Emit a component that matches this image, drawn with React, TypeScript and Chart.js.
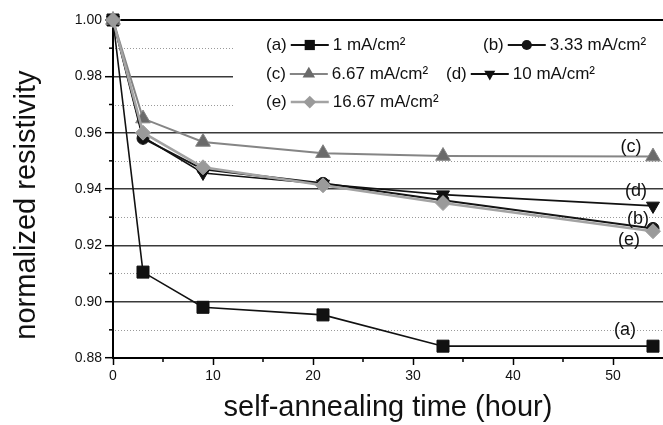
import React, { useEffect, useRef } from 'react';
import { Chart, registerables } from 'chart.js';

Chart.register(...registerables);

// ---- data ----
const hours = [0, 3, 9, 21, 33, 54];
const seriesA = [1.0, 0.9105, 0.898, 0.8953, 0.8842, 0.8842];
const seriesB = [1.0, 0.958, 0.947, 0.942, 0.936, 0.926];
const seriesC = [1.0, 0.965, 0.9567, 0.9527, 0.9517, 0.9515];
const seriesD = [1.0, 0.9585, 0.9457, 0.9418, 0.938, 0.934];
const seriesE = [1.0, 0.96, 0.9477, 0.9413, 0.935, 0.925];
const seriesTags = ['(a)', '(b)', '(c)', '(d)', '(e)'];
const seriesLabels = ['1 mA/cm\u00B2', '3.33 mA/cm\u00B2', '6.67 mA/cm\u00B2', '10 mA/cm\u00B2', '16.67 mA/cm\u00B2'];
const xTickValues = [0, 5, 10, 15, 20, 25, 30, 35, 40, 45, 50];
const yTickValues = [0.88, 0.89, 0.9, 0.91, 0.92, 0.93, 0.94, 0.95, 0.96, 0.97, 0.98, 0.99, 1.0];
const xTitle = 'self-annealing time (hour)';
const yTitle = 'normalized resistivity';

const FONT = "'Liberation Sans', Arial, Helvetica, sans-serif";

const isMajorY = (v: number) => Math.round(v * 100) % 2 === 0;
const isMajorX = (v: number) => Math.round(v) % 10 === 0;

function drawMarker(ctx: CanvasRenderingContext2D, style: string, x: number, y: number, r: number, rotationDeg: number) {
  let rad = (rotationDeg * Math.PI) / 180;
  ctx.beginPath();
  if (style === 'circle') {
    ctx.arc(x, y, r, 0, Math.PI * 2);
  } else if (style === 'rect') {
    const s = Math.SQRT1_2 * r;
    ctx.rect(x - s, y - s, 2 * s, 2 * s);
  } else if (style === 'rectRot') {
    ctx.moveTo(x - r, y);
    ctx.lineTo(x, y - r);
    ctx.lineTo(x + r, y);
    ctx.lineTo(x, y + r);
    ctx.closePath();
  } else if (style === 'triangle') {
    ctx.moveTo(x + Math.sin(rad) * r, y - Math.cos(rad) * r);
    rad += (2 * Math.PI) / 3;
    ctx.lineTo(x + Math.sin(rad) * r, y - Math.cos(rad) * r);
    rad += (2 * Math.PI) / 3;
    ctx.lineTo(x + Math.sin(rad) * r, y - Math.cos(rad) * r);
    ctx.closePath();
  }
  ctx.fill();
}

// per-series annotation offsets (px) relative to the last point
const annotationOffsets = [
  [-28, -16],
  [-15, -9],
  [-22, -10],
  [-17, -15],
  [-24, 9],
];
// legend layout (px)
const legendItemX = [266, 483, 266, 446, 266];
const legendRowY = [45, 45, 74, 74, 102];

const decorPlugin = {
  id: 'decor',
  beforeDatasetsDraw(chart: any) {
    const { ctx, chartArea } = chart;
    const xs = chart.scales.x;
    const ys = chart.scales.y;
    ctx.save();
    // dotted minor gridlines
    ctx.strokeStyle = '#9a9a9a';
    ctx.lineWidth = 1;
    ctx.setLineDash([1, 2]);
    yTickValues.forEach((v) => {
      if (isMajorY(v)) return;
      const py = Math.round(ys.getPixelForValue(v)) + 0.5;
      ctx.beginPath();
      ctx.moveTo(chartArea.left + 2, py);
      ctx.lineTo(chartArea.right, py);
      ctx.stroke();
    });
    ctx.setLineDash([]);
    // minor ticks
    ctx.strokeStyle = '#000';
    ctx.lineWidth = 1.5;
    yTickValues.forEach((v) => {
      if (isMajorY(v)) return;
      const py = ys.getPixelForValue(v);
      ctx.beginPath();
      ctx.moveTo(chartArea.left - 4, py);
      ctx.lineTo(chartArea.left, py);
      ctx.stroke();
    });
    xTickValues.forEach((v) => {
      if (isMajorX(v)) return;
      const px = xs.getPixelForValue(v);
      ctx.beginPath();
      ctx.moveTo(px, chartArea.bottom);
      ctx.lineTo(px, chartArea.bottom + 4);
      ctx.stroke();
    });
    ctx.restore();
  },
  afterDatasetsDraw(chart: any) {
    const { ctx, chartArea } = chart;
    const xs = chart.scales.x;
    const ys = chart.scales.y;
    ctx.save();
    // annotations near the curve ends
    ctx.font = `18px ${FONT}`;
    ctx.fillStyle = '#111';
    ctx.textAlign = 'center';
    ctx.textBaseline = 'middle';
    chart.data.datasets.forEach((ds: any, i: number) => {
      const last = ds.data[ds.data.length - 1];
      const px = xs.getPixelForValue(last.x) + annotationOffsets[i][0];
      const py = ys.getPixelForValue(last.y) + annotationOffsets[i][1];
      ctx.fillText(seriesTags[i], px, py);
    });

    // legend box
    const boxLeft = xs.getPixelForValue(12);
    const boxTop = ys.getPixelForValue(1.0) + 1.5;
    const boxBottom = ys.getPixelForValue(0.96) - 1.5;
    ctx.fillStyle = '#fff';
    ctx.fillRect(boxLeft, boxTop, chartArea.right - boxLeft, boxBottom - boxTop);

    ctx.textAlign = 'left';
    chart.data.datasets.forEach((ds: any, i: number) => {
      const x0 = legendItemX[i];
      const y0 = legendRowY[i];
      ctx.font = `17px ${FONT}`;
      ctx.fillStyle = '#111';
      ctx.fillText(seriesTags[i], x0, y0);
      const tw = ctx.measureText(seriesTags[i]).width;
      const l0 = x0 + tw + 4;
      const l1 = l0 + 38;
      ctx.strokeStyle = ds.borderColor;
      ctx.lineWidth = Math.max(2, ds.borderWidth);
      ctx.beginPath();
      ctx.moveTo(l0, y0);
      ctx.lineTo(l1, y0);
      ctx.stroke();
      ctx.fillStyle = ds.pointBackgroundColor;
      drawMarker(ctx, ds.pointStyle, (l0 + l1) / 2, y0, ds.pointRadius * 0.85, ds.pointRotation || 0);
      ctx.fillStyle = '#111';
      ctx.fillText(ds.label, l1 + 4, y0);
    });
    ctx.restore();
  },
};

const makeData = (vals: number[]) => hours.map((h, i) => ({ x: h, y: vals[i] }));

export default function App() {
  const canvasRef = useRef<HTMLCanvasElement | null>(null);

  useEffect(() => {
    const canvas = canvasRef.current;
    if (!canvas) return;
    const chart = new Chart(canvas, {
      type: 'line',
      data: {
        datasets: [
          {
            label: seriesLabels[0], data: makeData(seriesA),
            borderColor: '#111', backgroundColor: '#111', pointBackgroundColor: '#111',
            pointStyle: 'rect', pointRadius: 8.5, borderWidth: 1.6, pointBorderWidth: 1, order: 4, clip: false,
          },
          {
            label: seriesLabels[1], data: makeData(seriesB),
            borderColor: '#151515', backgroundColor: '#151515', pointBackgroundColor: '#151515',
            pointStyle: 'circle', pointRadius: 6, borderWidth: 2, pointBorderWidth: 1, order: 2, clip: false,
          },
          {
            label: seriesLabels[2], data: makeData(seriesC),
            borderColor: '#858585', backgroundColor: '#6a6a6a', pointBackgroundColor: '#6a6a6a',
            pointStyle: 'triangle', pointRadius: 8.5, borderWidth: 2, pointBorderWidth: 1, order: 3, clip: false,
          },
          {
            label: seriesLabels[3], data: makeData(seriesD),
            borderColor: '#111', backgroundColor: '#111', pointBackgroundColor: '#111',
            pointStyle: 'triangle', pointRotation: 180, pointRadius: 7.5, borderWidth: 1.6, pointBorderWidth: 1, order: 1, clip: false,
          },
          {
            label: seriesLabels[4], data: makeData(seriesE),
            borderColor: '#a3a3a3', backgroundColor: '#9a9a9a', pointBackgroundColor: '#9a9a9a',
            pointStyle: 'rectRot', pointRadius: 7.5, borderWidth: 2.6, pointBorderWidth: 1, order: 0, clip: false,
          },
        ],
      },
      options: {
        animation: false,
        responsive: false,
        events: [],
        layout: { autoPadding: false, padding: { top: 20, right: 0, left: 0, bottom: 0 } },
        plugins: { legend: { display: false }, tooltip: { enabled: false } },
        scales: {
          x: {
            type: 'linear',
            min: 0,
            max: 55,
            afterBuildTicks: (scale: any) => {
              scale.ticks = xTickValues.map((v) => ({ value: v }));
            },
            afterFit: (scale: any) => {
              scale.height = 67;
            },
            ticks: {
              autoSkip: false,
              maxRotation: 0,
              padding: 3,
              color: '#111',
              font: { family: FONT, size: 14 },
              callback: (v: any) => (isMajorX(Number(v)) ? String(v) : ''),
            },
            grid: {
              drawOnChartArea: false,
              drawTicks: true,
              tickLength: 7,
              tickWidth: 1.5,
              tickColor: (c: any) => (c.tick && isMajorX(c.tick.value) ? '#000' : 'rgba(0,0,0,0)'),
            },
            border: { color: '#000', width: 2 },
            title: {
              display: true,
              text: xTitle,
              color: '#111',
              font: { family: FONT, size: 29 },
              padding: { top: 0, bottom: 0 },
            },
          },
          y: {
            type: 'linear',
            min: 0.88,
            max: 1.0,
            afterBuildTicks: (scale: any) => {
              scale.ticks = yTickValues.map((v) => ({ value: v }));
            },
            afterFit: (scale: any) => {
              scale.width = 113;
            },
            ticks: {
              autoSkip: false,
              padding: 3,
              color: '#111',
              font: { family: FONT, size: 14 },
              callback: (v: any) => (isMajorY(Number(v)) ? Number(v).toFixed(2) : ''),
            },
            grid: {
              drawTicks: true,
              tickLength: 8,
              tickWidth: 1.5,
              tickColor: (c: any) => (c.tick && isMajorY(c.tick.value) ? '#000' : 'rgba(0,0,0,0)'),
              color: (c: any) => {
                if (!c.tick) return 'rgba(0,0,0,0)';
                const v = c.tick.value;
                if (!isMajorY(v)) return 'rgba(0,0,0,0)';
                return v >= 0.999 ? '#000' : '#3a3a3a';
              },
              lineWidth: (c: any) => (c.tick && c.tick.value >= 0.999 ? 2 : 1.4),
            },
            border: { color: '#000', width: 2 },
            title: {
              display: true,
              text: yTitle + '    ',
              color: '#111',
              font: { family: FONT, size: 29 },
              padding: { top: 10, bottom: 0 },
            },
          },
        },
      },
      plugins: [decorPlugin],
    } as any);
    return () => chart.destroy();
  }, []);

  return (
    <div style={{ position: 'fixed', left: 0, top: 0, width: 663, height: 425, background: '#fff' }}>
      <canvas ref={canvasRef} width={663} height={425} style={{ display: 'block' }} />
    </div>
  );
}
